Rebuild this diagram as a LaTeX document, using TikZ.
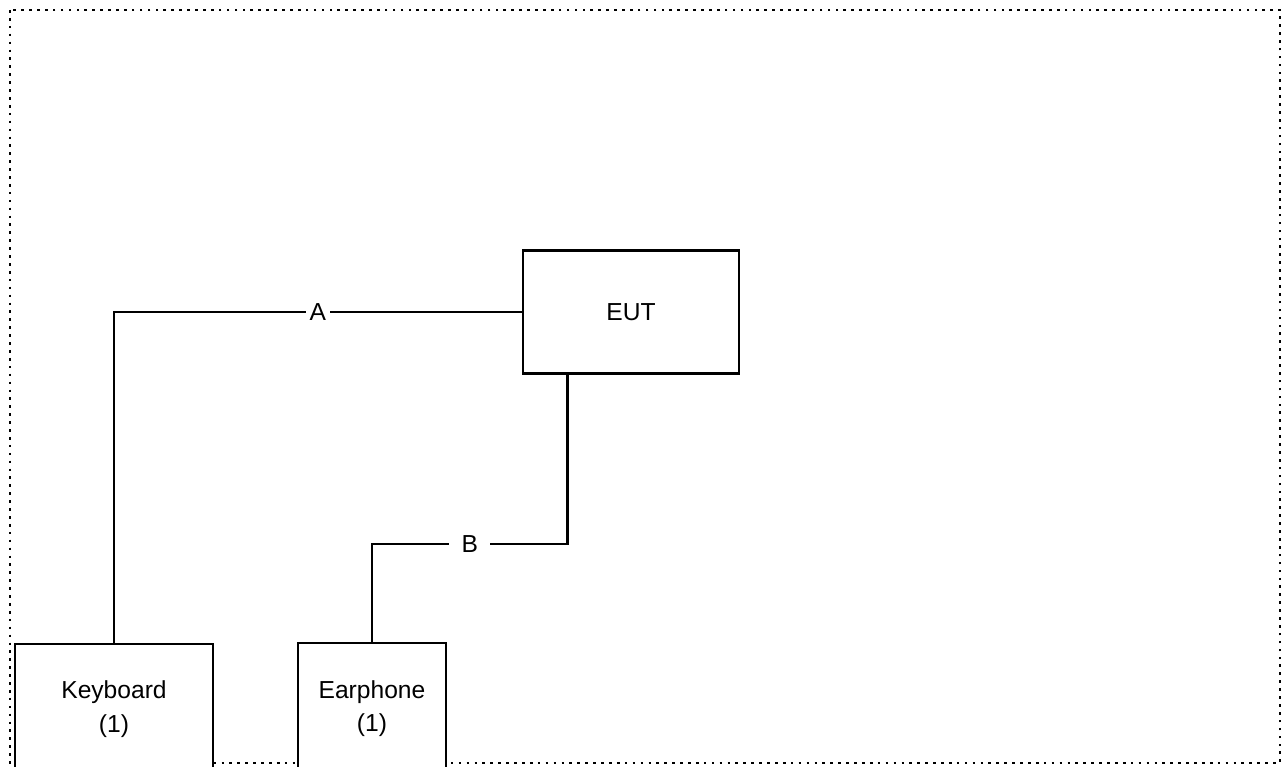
\documentclass[tikz,border=0pt]{standalone}
\usepackage{fontspec}
\setmainfont{Liberation Sans}
\usepackage{tikz}
\usetikzlibrary{positioning}
\usepackage{xcolor}

\begin{document}
\begin{tikzpicture}[x=0.02cm, y=-0.02cm,
    unit/.style={draw, line width=1.6pt, fill=white, align=center, inner sep=0pt,
      font=\fontsize{14}{19}\selectfont},
    cable/.style={line width=1.6pt},
    lbl/.style={fill=white, inner ysep=1pt, font=\fontsize{14}{17}\selectfont}]
  \useasboundingbox (0,0) rectangle (1285,767);
  \clip (0,0) rectangle (1285,767);
  \draw[line width=1.5pt, dash pattern=on 1.5pt off 3pt] (10,10) rectangle (1280,763);

  \def\yb{544}
  \node[unit, minimum width=216*0.02cm, minimum height=123*0.02cm] (eut) at (631,312) {EUT};
  \node[unit, minimum width=198*0.02cm, minimum height=130*0.02cm] (kbd) at (114,709) {Keyboard\\(1)};
  \node[unit, minimum width=148*0.02cm, minimum height=131*0.02cm] (eph) at (372,708.5) {Earphone\\(1)};

  \coordinate (eutb) at ([xshift=46*0.02cm]eut.south west);
  \draw[cable] (kbd.north) |- node[lbl, pos=0.75, inner xsep=2pt] {A} (eut.west);
  \draw[cable] (eutb) -- (eutb |- 0,\yb)
    -- node[lbl, inner xsep=7pt] {B} (eph.north |- 0,\yb) -- (eph.north);
\end{tikzpicture}
\end{document}
